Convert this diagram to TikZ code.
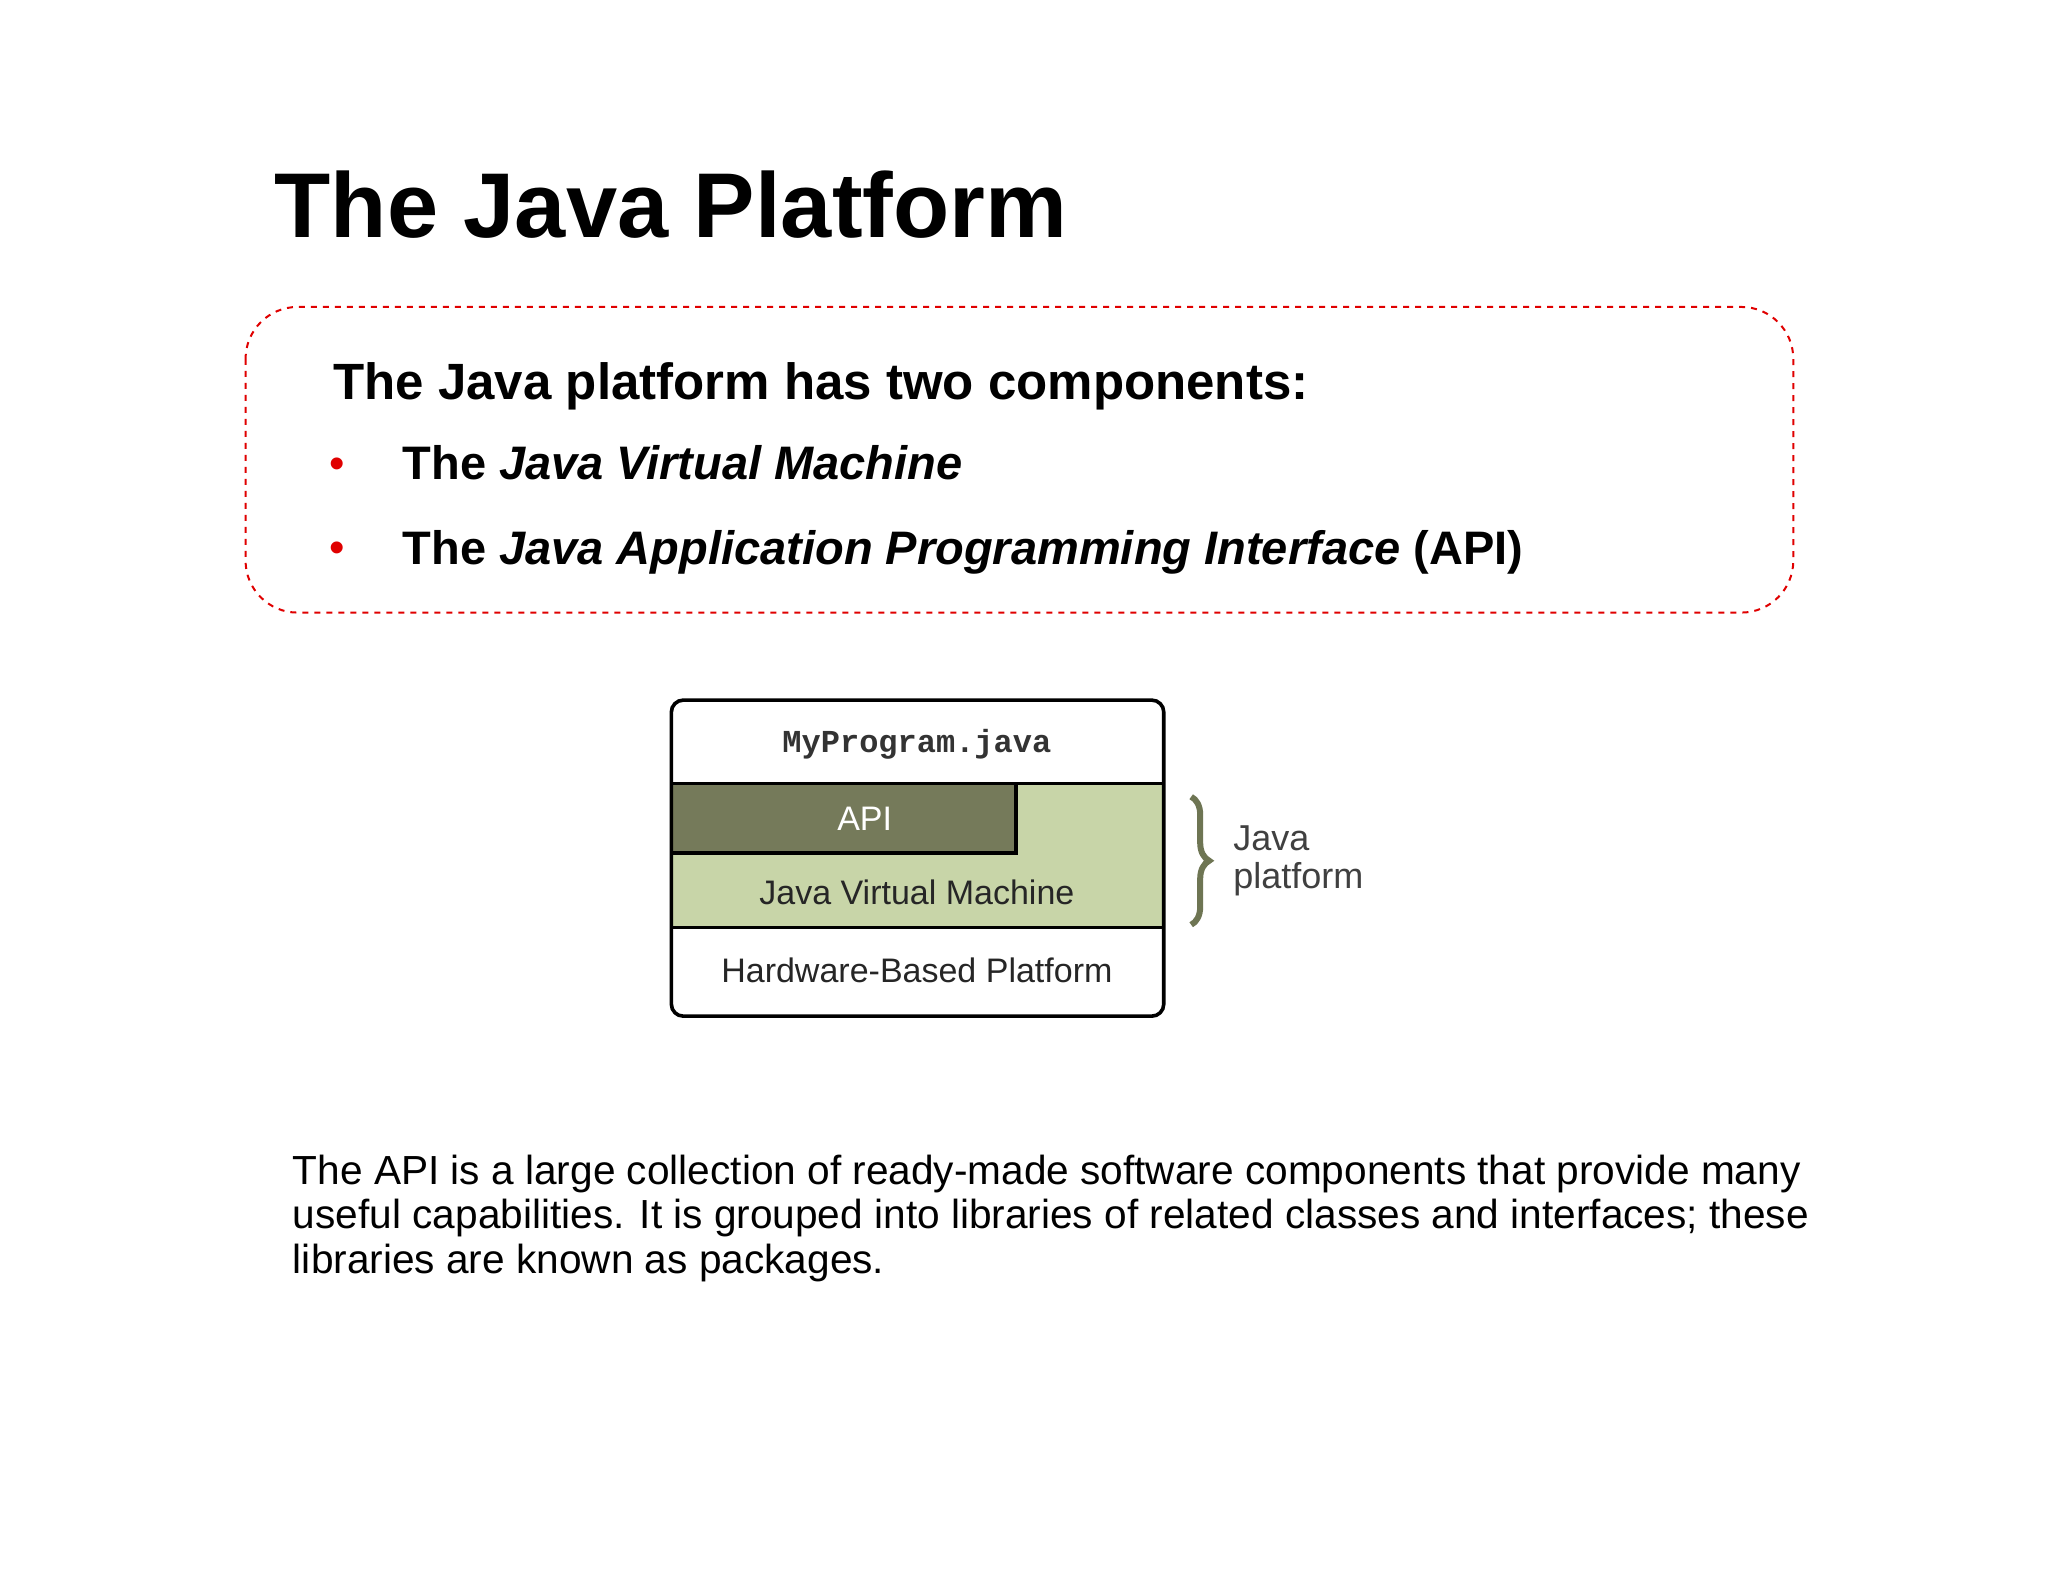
\documentclass[tikz,border=0pt]{standalone}
\usepackage{fontspec}
\setmainfont{Liberation Sans}
\setmonofont{Liberation Mono}
\usetikzlibrary{decorations.pathreplacing}
\definecolor{apigreen}{HTML}{757A5A}
\definecolor{jvmgreen}{HTML}{C8D5A8}
\definecolor{bracegreen}{HTML}{6E7553}
\definecolor{bulred}{HTML}{E00000}
\tikzset{txt/.style={anchor=base west,inner sep=0pt},
 layer/.style={draw=black,line width=1.8pt}}
\begin{document}
\begin{tikzpicture}[x=0.653pt,y=-0.653pt]
\useasboundingbox[fill=white] (0,0) rectangle (1568,1211);
\node[txt,font=\fontsize{46}{50}\selectfont\bfseries] (title) at (210,182) {The Java Platform};
\draw[bulred,dashed,line width=1pt,rounded corners=26pt] (188,235) rectangle (1373,469);
\node[txt,font=\fontsize{25.5}{30}\selectfont\bfseries] (head) at (255,306) {The Java platform has two components:};
\node[txt,text=bulred,font=\fontsize{22}{26}\selectfont] (b1) at (252,366) {•};
\node[txt,text=bulred,font=\fontsize{22}{26}\selectfont] (b2) at (252,431) {•};
\node[txt,font=\fontsize{23.5}{28}\selectfont\bfseries] (i1) at (308,367) {The \textit{Java Virtual Machine}};
\node[txt,font=\fontsize{23.5}{28}\selectfont\bfseries] (i2) at (308,432) {The \textit{Java Application Programming Interface} (API)};
% diagram
\fill[jvmgreen] (514,600) rectangle (891,710);
\fill[apigreen] (514,600) rectangle (778,653);
\draw[layer] (514,600) -- (891,600);
\draw[layer] (514,710) -- (891,710);
\draw[layer] (514,653) -- (778,653) -- (778,600);
\draw[layer,rounded corners=6pt] (514,536) rectangle (891,778);
\node[font=\fontsize{16}{18}\selectfont\ttfamily\bfseries,text=black!80] (prog) at (702,570) {MyProgram.java};
\node[font=\fontsize{17}{20}\selectfont,text=white] (api) at (662,627) {API};
\node[font=\fontsize{17}{20}\selectfont,text=black!85] (jvm) at (702,683) {Java Virtual Machine};
\node[font=\fontsize{17}{20}\selectfont,text=black!85] (hw) at (702,743) {Hardware-Based Platform};
\coordinate (bt) at (912,610);
\coordinate (bb) at (912,708);
\draw[bracegreen,line width=3pt,decorate,decoration={brace,amplitude=9pt}] (bt) -- (bb);
\node[txt,font=\fontsize{18}{19}\selectfont,text=black!75,align=left,anchor=north west] (jp) at (944,632) {Java\\platform};
\node[txt,font=\fontsize{20.3}{22.2}\selectfont,align=left,anchor=north west] (para) at (224,884) {The API is a large collection of ready-made software components that provide many\\useful capabilities. It is grouped into libraries of related classes and interfaces; these\\libraries are known as packages.};
\end{tikzpicture}
\end{document}
